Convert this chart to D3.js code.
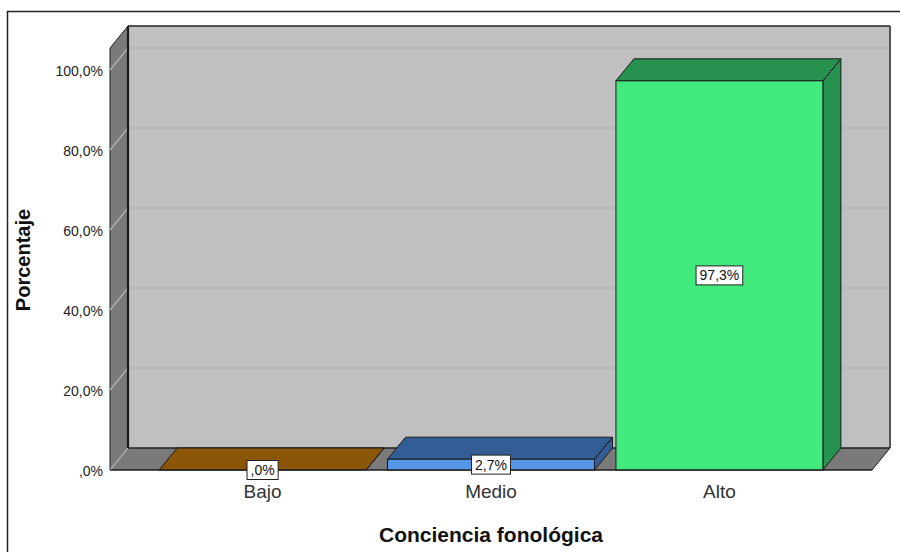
<!DOCTYPE html>
<html>
<head>
<meta charset="utf-8">
<script src="https://cdn.jsdelivr.net/npm/d3@7"></script>
<style>
  html, body { margin: 0; padding: 0; background: #fff; }
  svg { display: block; font-family: Arial, "Liberation Sans", sans-serif; }
</style>
</head>
<body>
<svg id="chart" width="900" height="552"></svg>
<script>
// Category labels and their percentages
const categories = ["Bajo", "Medio", "Alto"];
const percentages = [0, 2.7, 97.3];
const valueLabels = [",0%", "2,7%", "97,3%"];
const tickValues = [0, 20, 40, 60, 80, 100];
const tickLabels = [",0%", "20,0%", "40,0%", "60,0%", "80,0%", "100,0%"];

// Bar fills: front face, top/side faces
const frontColors = ["#8b5608", "#5597e6", "#42ea7e"];
const topColors = ["#8b5608", "#335d94", "#279150"];

const svg = d3.select("#chart");

// 3D depth offset
const DX = 18, DY = -22;

const x = d3.scaleBand()
  .domain(categories)
  .range([110, 872])
  .paddingInner(0.094)
  .paddingOuter(0.215);

const y = d3.scaleLinear().domain([0, 100]).range([470, 70]);
const yTopWall = y(105.5);
const x0 = 110, x1 = 872, y0 = y(0);

// Outer frame
svg.append("rect")
  .attr("x", 7.5).attr("y", 11.5).attr("width", 910).attr("height", 560)
  .attr("fill", "none").attr("stroke", "#222").attr("stroke-width", 1.5);

const pts = a => a.map(p => p.join(",")).join(" ");

// Back wall
svg.append("rect")
  .attr("x", x0 + DX).attr("y", yTopWall + DY)
  .attr("width", x1 - x0).attr("height", y0 - yTopWall)
  .attr("fill", "#c0c0c0");

// Left side wall
svg.append("polygon")
  .attr("points", pts([[x0, yTopWall], [x0 + DX, yTopWall + DY], [x0 + DX, y0 + DY], [x0, y0]]))
  .attr("fill", "#7a7a7a").attr("stroke", "#222").attr("stroke-width", 1);

// Floor
svg.append("polygon")
  .attr("points", pts([[x0, y0], [x1, y0], [x1 + DX, y0 + DY], [x0 + DX, y0 + DY]]))
  .attr("fill", "#7a7a7a").attr("stroke", "#222").attr("stroke-width", 1);

// Gridlines: diagonal across the side wall, then along the back wall
const grid = svg.append("g");
tickValues.forEach(v => {
  if (v > 0) {
    grid.append("line")
      .attr("x1", x0 + DX).attr("x2", x1 + DX)
      .attr("y1", y(v) + DY).attr("y2", y(v) + DY)
      .attr("stroke", "#adadad").attr("stroke-width", 1.2);
  }
  grid.append("line")
    .attr("x1", x0).attr("y1", y(v))
    .attr("x2", x0 + DX).attr("y2", y(v) + DY)
    .attr("stroke", "#b4b4b4").attr("stroke-width", 1.2);
});

// Back wall edges
svg.append("line")
  .attr("x1", x0 + DX).attr("x2", x0 + DX)
  .attr("y1", yTopWall + DY).attr("y2", y0 + DY)
  .attr("stroke", "#1a1a1a").attr("stroke-width", 2.2);
svg.append("line")
  .attr("x1", x0 + DX).attr("x2", x1 + DX)
  .attr("y1", yTopWall + DY).attr("y2", yTopWall + DY)
  .attr("stroke", "#222").attr("stroke-width", 1.6);
svg.append("line")
  .attr("x1", x1 + DX).attr("x2", x1 + DX)
  .attr("y1", yTopWall + DY).attr("y2", y0 + DY)
  .attr("stroke", "#555").attr("stroke-width", 2);
svg.append("line")
  .attr("x1", x0 + DX).attr("x2", x1 + DX)
  .attr("y1", y0 + DY).attr("y2", y0 + DY)
  .attr("stroke", "#222").attr("stroke-width", 1.2);

// Tick labels
svg.append("g").selectAll("text")
  .data(tickValues)
  .join("text")
  .attr("x", 103)
  .attr("y", d => y(d) + 2)
  .attr("text-anchor", "end")
  .attr("dominant-baseline", "middle")
  .attr("font-size", 14)
  .attr("fill", "#222")
  .text((d, i) => tickLabels[i]);

// Bars
const bars = svg.append("g").selectAll("g")
  .data(categories.map((c, i) => ({ c, v: percentages[i], i })))
  .join("g");

bars.each(function(d) {
  const g = d3.select(this);
  const bx = x(d.c), w = x.bandwidth(), yt = y(d.v), yb = y(0);
  // side face
  g.append("polygon")
    .attr("points", pts([[bx + w, yt], [bx + w, yb], [bx + w + DX, yb + DY], [bx + w + DX, yt + DY]]))
    .attr("fill", topColors[d.i]).attr("stroke", "#1a1a1a").attr("stroke-width", 1);
  // top face
  g.append("polygon")
    .attr("points", pts([[bx, yt], [bx + w, yt], [bx + w + DX, yt + DY], [bx + DX, yt + DY]]))
    .attr("fill", topColors[d.i]).attr("stroke", "#1a1a1a").attr("stroke-width", 1);
  // front face
  if (d.v > 0) {
    g.append("rect")
      .attr("x", bx).attr("y", yt).attr("width", w).attr("height", yb - yt)
      .attr("fill", frontColors[d.i]).attr("stroke", "#1a1a1a").attr("stroke-width", 1);
  }
});

// Front floor edge
svg.append("line")
  .attr("x1", x0).attr("x2", x1).attr("y1", y0).attr("y2", y0)
  .attr("stroke", "#1a1a1a").attr("stroke-width", 1.2);

// Value labels in boxes, centred on each front face
const labels = svg.append("g").selectAll("g")
  .data(categories.map((c, i) => ({ c, v: percentages[i], i })))
  .join("g")
  .attr("transform", d => `translate(${x(d.c) + x.bandwidth() / 2},${(y(d.v) + y(0)) / 2})`);

labels.append("text")
  .attr("text-anchor", "middle")
  .attr("dominant-baseline", "central")
  .attr("font-size", 14)
  .attr("fill", "#111")
  .text(d => valueLabels[d.i]);

labels.each(function() {
  const g = d3.select(this);
  const bb = g.select("text").node().getBBox();
  g.insert("rect", "text")
    .attr("x", bb.x - 3.5).attr("y", bb.y - 1.5)
    .attr("width", bb.width + 7).attr("height", bb.height + 3)
    .attr("fill", "#fff").attr("stroke", "#222").attr("stroke-width", 1);
});

// Category labels
svg.append("g").selectAll("text")
  .data(categories)
  .join("text")
  .attr("x", d => x(d) + x.bandwidth() / 2)
  .attr("y", 498)
  .attr("text-anchor", "middle")
  .attr("font-size", 19)
  .attr("fill", "#333")
  .text(d => d);

// Axis titles
svg.append("text")
  .attr("x", 491).attr("y", 542)
  .attr("text-anchor", "middle")
  .attr("font-size", 21).attr("font-weight", "bold").attr("fill", "#111")
  .text("Conciencia fonológica");

svg.append("text")
  .attr("transform", "translate(30,260) rotate(-90)")
  .attr("text-anchor", "middle")
  .attr("font-size", 20).attr("font-weight", "bold").attr("fill", "#111")
  .text("Porcentaje");
</script>
</body>
</html>
